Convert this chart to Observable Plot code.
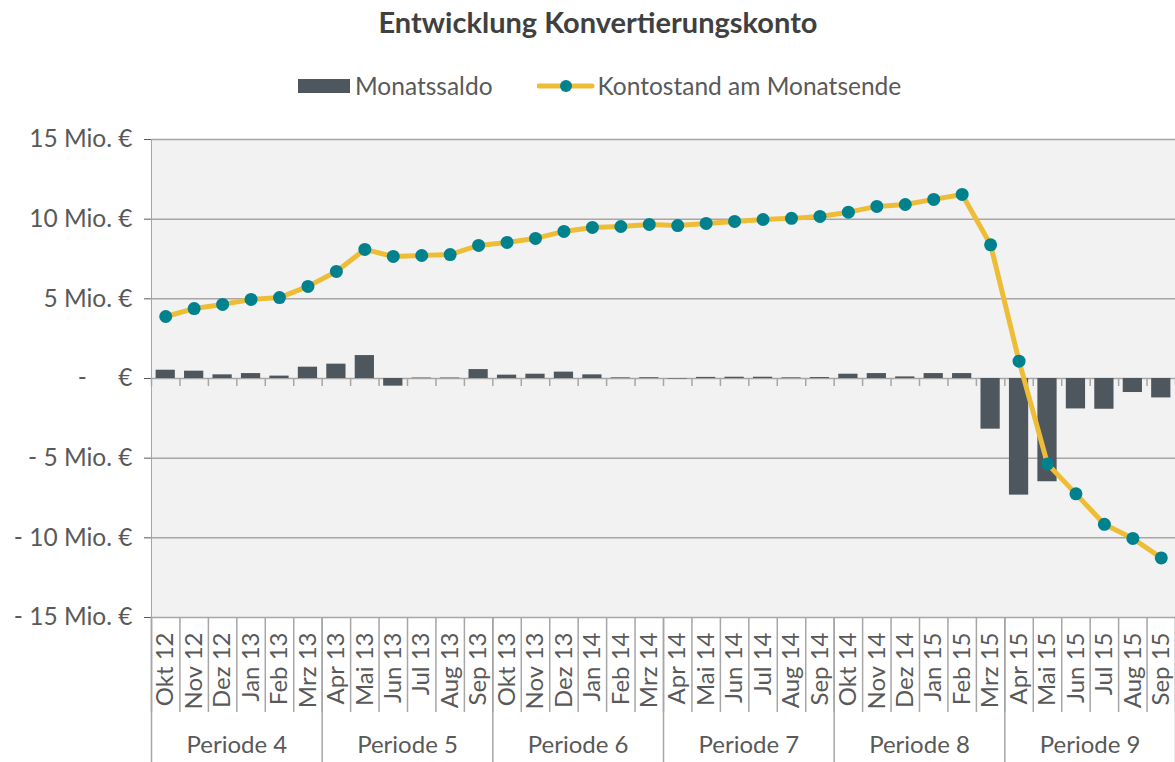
<!DOCTYPE html>
<html>
<head>
<meta charset="utf-8">
<script src="https://cdn.jsdelivr.net/npm/d3@7"></script>
<script src="https://cdn.jsdelivr.net/npm/@observablehq/plot@0.6"></script>
<style>
  html, body { margin: 0; padding: 0; background: #ffffff; }
  body { width: 1175px; height: 762px; position: relative; overflow: hidden; font-family: Lato, "Open Sans", sans-serif; }
  #title { position: absolute; left: 0; width: 1196px; top: 3px; text-align: center; font-size: 29px; font-weight: bold; color: #404040; line-height: 38px; }
  #legend { position: absolute; top: 69px; left: 298px; display: flex; align-items: center; font-size: 24.5px; color: #595959; line-height: 34px; }
  #legend .item { display: flex; align-items: center; }
  #chart { position: absolute; left: 0; top: 120px; }
</style>
</head>
<body>
<div id="title">Entwicklung Konvertierungskonto</div>
<div id="legend"></div>
<div id="chart"></div>
<script>
const months = ["Okt 12","Nov 12","Dez 12","Jan 13","Feb 13","Mrz 13","Apr 13","Mai 13","Jun 13","Jul 13","Aug 13","Sep 13",
  "Okt 13","Nov 13","Dez 13","Jan 14","Feb 14","Mrz 14","Apr 14","Mai 14","Jun 14","Jul 14","Aug 14","Sep 14",
  "Okt 14","Nov 14","Dez 14","Jan 15","Feb 15","Mrz 15","Apr 15","Mai 15","Jun 15","Jul 15","Aug 15","Sep 15"];
const monatssaldo = [0.52,0.46,0.23,0.31,0.15,0.71,0.90,1.44,-0.48,0.03,0.03,0.56,
  0.21,0.27,0.40,0.23,0.04,0.05,-0.03,0.07,0.08,0.08,0.04,0.06,
  0.27,0.31,0.10,0.31,0.31,-3.18,-7.32,-6.48,-1.91,-1.93,-0.88,-1.22];
const kontostand = [3.89,4.39,4.65,4.96,5.08,5.78,6.72,8.10,7.66,7.72,7.78,8.35,
  8.54,8.79,9.23,9.48,9.54,9.67,9.60,9.73,9.86,9.98,10.05,10.17,
  10.44,10.80,10.92,11.24,11.55,8.39,1.09,-5.36,-7.24,-9.15,-10.04,-11.26];
const periods = ["Periode 4","Periode 5","Periode 6","Periode 7","Periode 8","Periode 9"];
const yTicks = [-15,-10,-5,0,5,10,15];

const seriesNames = ["Monatssaldo","Kontostand am Monatsende"];
const colors = {bar: "#4f575e", line: "#eebd37", dot: "#00818e", grid: "#a6a6a6", text: "#595959"};

const data = months.map((m, i) => ({month: m, saldo: monatssaldo[i], stand: kontostand[i]}));
const periodStarts = periods.map((p, i) => ({period: p, month: months[i * 6 + 3]}));
const boundaries = months.filter((m, i) => i % 6 === 0);

const W = 1175, H = 642, mL = 151, mR = 0, mT = 19, mB = 145;
const bw = (W - mL - mR) / months.length;
const plotH = H - mT - mB;

const fmt = d => d === 0 ? "-\u00a0\u00a0\u00a0\u00a0\u00a0€" : (d < 0 ? "- " + (-d) : String(d)) + " Mio. €";

const chart = Plot.plot({
  width: W, height: H,
  marginLeft: mL, marginRight: mR, marginTop: mT, marginBottom: mB,
  style: {fontFamily: "Lato, 'Open Sans', sans-serif", fontSize: "24.5px", color: colors.text, background: "transparent"},
  x: {type: "band", domain: months, paddingInner: 0, paddingOuter: 0, round: false, axis: null},
  y: {domain: [-15, 15], ticks: yTicks, tickFormat: fmt, tickSize: 7, tickPadding: 12, label: null, line: true},
  marks: [
    Plot.frame({fill: "#f2f2f2", stroke: null}),
    Plot.ruleY(yTicks, {stroke: colors.grid, strokeWidth: 1.5}),
    Plot.barY(data, {x: "month", y: "saldo", fill: colors.bar, insetLeft: 4.6, insetRight: 4.6}),
    // small ticks on zero line at band boundaries
    Plot.ruleX(months, {x: d => d, y1: 0, y2: 0, insetBottom: -8, dx: -bw / 2, stroke: colors.grid, strokeWidth: 1.5}),
    Plot.ruleX(months.slice(-1), {x: d => d, y1: 0, y2: 0, insetBottom: -8, dx: bw / 2, stroke: colors.grid, strokeWidth: 1.5}),
    // month separators below axis
    Plot.ruleX(months, {x: d => d, insetTop: plotH, insetBottom: -95, dx: -bw / 2, stroke: colors.grid, strokeWidth: 1.5}),
    Plot.ruleX(months.slice(-1), {x: d => d, insetTop: plotH, insetBottom: -95, dx: bw / 2, stroke: colors.grid, strokeWidth: 1.5}),
    // period separators
    Plot.ruleX(boundaries, {x: d => d, insetTop: plotH, insetBottom: -mB, dx: -bw / 2, stroke: colors.grid, strokeWidth: 1.5}),
    Plot.ruleX(months.slice(-1), {x: d => d, insetTop: plotH, insetBottom: -mB, dx: bw / 2, stroke: colors.grid, strokeWidth: 1.5}),
    Plot.lineY(data, {x: "month", y: "stand", stroke: colors.line, strokeWidth: 5, strokeLinejoin: "round"}),
    Plot.dot(data, {x: "month", y: "stand", r: 6.5, fill: colors.dot, stroke: null}),
    Plot.text(months, {x: d => d, y: -15, text: d => d, rotate: -90, textAnchor: "end", dy: 15, fill: colors.text, fontSize: 24}),
    Plot.text(periodStarts, {x: "month", y: -15, text: "period", dx: -bw / 2, dy: 128, fill: colors.text, fontSize: 24})
  ]
});
document.getElementById("chart").appendChild(chart);

// legend
const legend = document.getElementById("legend");
legend.innerHTML = `
  <div class="item"><svg width="57" height="16"><rect x="0" y="1" width="52" height="14" fill="${colors.bar}"/></svg><span>${seriesNames[0]}</span></div>
  <div class="item" style="margin-left:44px"><svg width="61" height="16"><line x1="2" y1="8" x2="55" y2="8" stroke="${colors.line}" stroke-width="5" stroke-linecap="round"/><circle cx="29" cy="8" r="6" fill="${colors.dot}"/></svg><span>${seriesNames[1]}</span></div>`;
</script>
</body>
</html>
